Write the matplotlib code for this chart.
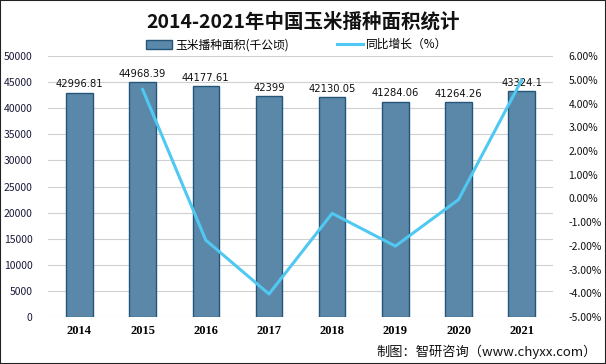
import numpy as np
import matplotlib.pyplot as plt
from matplotlib.patches import Rectangle
from matplotlib.lines import Line2D
from matplotlib.ticker import FuncFormatter

plt.rcParams['font.family'] = ['Noto Sans CJK SC', 'DejaVu Sans']

years = ['2014', '2015', '2016', '2017', '2018', '2019', '2020', '2021']
area = [42996.81, 44968.39, 44177.61, 42399, 42130.05, 41284.06, 41264.26, 43324.1]
# growth rate (%), no value for 2014
growth = [None, 4.59, -1.76, -4.03, -0.63, -2.01, -0.05, 4.99]

bar_color = '#5b88a8'
edge_color = '#24557a'
line_color = '#4fc8f2'

fig = plt.figure(figsize=(6.06, 3.64), dpi=100)
ax = fig.add_axes([0.079, 0.129, 0.834, 0.717])
x = np.arange(len(years))

ax.bar(x, area, width=0.42, color=bar_color, edgecolor=edge_color, linewidth=1.0, zorder=2)
for xi, v in zip(x, area):
    ax.text(xi, v + 600, str(v), ha='center', va='bottom', fontsize=7.2,
            family='DejaVu Sans', color='#111111', zorder=5)

ax.set_xlim(-0.5, len(years) - 0.5)
ax.set_ylim(0, 50000)
ax.set_yticks(np.arange(0, 50001, 5000))
ax.yaxis.grid(True, color='#d0d0d0', linewidth=0.8, zorder=0)
ax.set_xticks(x)
ax.set_xticklabels(years, fontsize=9, fontweight='bold', family='Liberation Serif')
ax.tick_params(axis='x', length=0, pad=6)
ax.tick_params(axis='y', length=0, pad=11, labelsize=7.5, labelcolor='#1a1a3a')
for s in ax.spines.values():
    s.set_visible(False)

ax2 = ax.twinx()
gx = [xi for xi, g in zip(x, growth) if g is not None]
gy = [g for g in growth if g is not None]
ax2.plot(gx, gy, color=line_color, linewidth=2.2, zorder=4)
ax2.set_ylim(-5, 6)
ax2.set_yticks(np.arange(-5, 7, 1))
ax2.yaxis.set_major_formatter(FuncFormatter(lambda v, p: '{:.2f}%'.format(v)))
ax2.tick_params(axis='y', length=0, pad=11, labelsize=7.5, labelcolor='#111111')
for s in ax2.spines.values():
    s.set_visible(False)

fig.text(0.5, 0.94, '2014-2021年中国玉米播种面积统计', ha='center', va='center',
         fontsize=14, fontweight='bold', color='#111111')

handles = [Rectangle((0, 0), 1, 1, facecolor=bar_color, edgecolor=edge_color, linewidth=1.0),
           Line2D([0], [0], color=line_color, linewidth=2.2)]
fig.legend(handles, ['玉米播种面积(千公顷)', '同比增长（%）'], loc='center',
           bbox_to_anchor=(0.49, 0.877), ncol=2, frameon=False, fontsize=8.5,
           handlelength=2.2, handleheight=0.8, columnspacing=4, handletextpad=0.3)

fig.text(0.985, 0.033, '制图：智研咨询（www.chyxx.com）', ha='right', va='center',
         fontsize=9.5, color='#111111')

fig.patches.append(Rectangle((0, 0), 1, 1, transform=fig.transFigure, fill=False,
                             edgecolor='#222222', linewidth=1.5))

fig.savefig('out.png', dpi=100)
